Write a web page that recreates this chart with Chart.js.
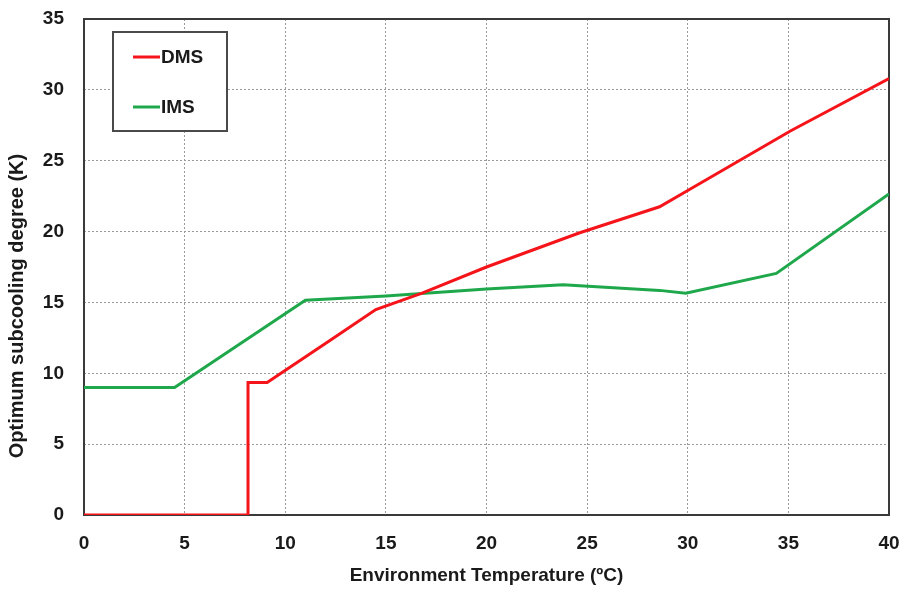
<!DOCTYPE html>
<html>
<head>
<meta charset="utf-8">
<script src="https://cdn.jsdelivr.net/npm/chart.js@4/dist/chart.umd.min.js"></script>
<style>
  html, body { margin: 0; padding: 0; background: #fff; }
  #wrap { width: 904px; height: 592px; }
</style>
</head>
<body>
<div id="wrap"><canvas id="subcoolChart" width="904" height="592"></canvas></div>
<script>
// Optimum subcooling degree vs environment temperature
const dmsTemp = [0, 8.15, 8.15, 9.1, 12.2, 14.5, 16.8, 20, 24.6, 28.6, 30, 35.1, 40];
const dmsSub  = [0, 0, 9.35, 9.35, 12.3, 14.5, 15.65, 17.5, 19.9, 21.75, 22.9, 27.1, 30.8];
const imsTemp = [0, 4.5, 11, 15, 20, 23.8, 28.6, 29.9, 34.4, 40];
const imsSub  = [9.0, 9.0, 15.15, 15.45, 15.95, 16.25, 15.85, 15.65, 17.05, 22.65];
const xTicks = [0, 5, 10, 15, 20, 25, 30, 35, 40];
const yTicks = [0, 5, 10, 15, 20, 25, 30, 35];

const FONT = "'Liberation Sans Narrow', 'Arial Narrow', 'Liberation Sans', sans-serif";
const TEXT = '#1a1a1a';

const toPoints = (xs, ys) => xs.map((x, i) => ({ x: x, y: ys[i] }));

// frame around the plot + boxed legend + rotated y title
const decor = {
  id: 'decor',
  beforeDatasetsDraw(chart) {
    const { ctx, chartArea: a } = chart;
    ctx.save();
    ctx.strokeStyle = '#3a3a3a';
    ctx.lineWidth = 2;
    ctx.strokeRect(a.left, a.top, a.right - a.left, a.bottom - a.top);
    ctx.restore();
  },
  afterDatasetsDraw(chart) {
    const { ctx } = chart;
    ctx.save();
    // legend box
    ctx.fillStyle = '#fff';
    ctx.fillRect(113, 32, 114, 99);
    ctx.strokeStyle = '#4a4a4a';
    ctx.lineWidth = 2;
    ctx.strokeRect(113, 32, 114, 99);
    ctx.font = 'bold 19px ' + FONT;
    ctx.textBaseline = 'middle';
    ctx.textAlign = 'left';
    chart.data.datasets.forEach((ds, i) => {
      const y = 57 + i * 50;
      ctx.strokeStyle = ds.borderColor;
      ctx.lineWidth = 3;
      ctx.beginPath();
      ctx.moveTo(133, y);
      ctx.lineTo(160, y);
      ctx.stroke();
      ctx.fillStyle = TEXT;
      ctx.fillText(ds.label, 161, y + 1);
    });
    // y axis title
    ctx.font = 'bold 20px ' + FONT;
    ctx.translate(17, 306);
    ctx.rotate(-Math.PI / 2);
    ctx.textAlign = 'center';
    ctx.fillText('Optimum subcooling degree (K)', 0, 0);
    ctx.restore();
  }
};

new Chart(document.getElementById('subcoolChart'), {
  type: 'scatter',
  data: {
    datasets: [{
      label: 'DMS',
      data: toPoints(dmsTemp, dmsSub),
      borderColor: '#f5141a',
      showLine: true,
      borderWidth: 3,
      pointRadius: 0,
      tension: 0
    }, {
      label: 'IMS',
      data: toPoints(imsTemp, imsSub),
      borderColor: '#1ea84b',
      showLine: true,
      borderWidth: 3,
      pointRadius: 0,
      tension: 0
    }]
  },
  options: {
    responsive: false,
    animation: false,
    layout: { padding: { top: 19, right: 15, left: 0, bottom: 0 } },
    plugins: { legend: { display: false }, tooltip: { enabled: false } },
    scales: {
      x: {
        type: 'linear',
        min: 0, max: 40,
        afterFit: s => { s.height = 77; s.paddingLeft = 0; s.paddingRight = 0; },
        afterBuildTicks: s => { s.ticks = xTicks.map(v => ({ value: v })); },
        grid: { color: '#9a9a9a', lineWidth: 1, drawTicks: false },
        border: { display: false, dash: [2, 2] },
        ticks: { color: TEXT, padding: 17, font: { family: FONT, size: 19, weight: 'bold' } },
        title: {
          display: true,
          text: 'Environment Temperature (ºC)',
          color: TEXT,
          padding: { top: 0, bottom: 5 },
          font: { family: FONT, size: 19, weight: 'bold' }
        }
      },
      y: {
        type: 'linear',
        min: 0, max: 35,
        afterFit: s => { s.width = 84; s.paddingTop = 0; s.paddingBottom = 0; },
        afterBuildTicks: s => { s.ticks = yTicks.map(v => ({ value: v })); },
        grid: { color: '#9a9a9a', lineWidth: 1, drawTicks: false },
        border: { display: false, dash: [2, 2] },
        ticks: { color: TEXT, padding: 20, font: { family: FONT, size: 19, weight: 'bold' } }
      }
    }
  },
  plugins: [decor]
});
</script>
</body>
</html>
